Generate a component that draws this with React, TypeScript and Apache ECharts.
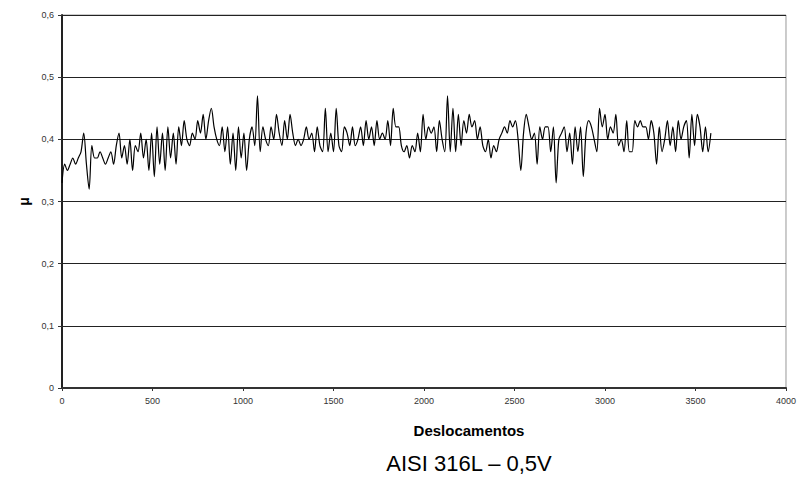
import React, { useEffect, useRef } from "react";
import * as echarts from "echarts";

const xStep = 15;
const muValues: number[] = [
  0.33, 0.36, 0.35, 0.36, 0.37, 0.36, 0.37, 0.38, 0.41, 0.36,
  0.32, 0.39, 0.37, 0.37, 0.38, 0.37, 0.36, 0.37, 0.38, 0.36,
  0.39, 0.41, 0.37, 0.39, 0.36, 0.40, 0.35, 0.39, 0.38, 0.41,
  0.37, 0.40, 0.35, 0.41, 0.34, 0.42, 0.36, 0.41, 0.35, 0.42,
  0.37, 0.41, 0.36, 0.42, 0.39, 0.43, 0.40, 0.39, 0.41, 0.40,
  0.43, 0.41, 0.44, 0.40, 0.43, 0.45, 0.42, 0.40, 0.39, 0.42,
  0.38, 0.42, 0.36, 0.41, 0.35, 0.42, 0.37, 0.41, 0.35, 0.40,
  0.42, 0.39, 0.47, 0.38, 0.42, 0.40, 0.39, 0.42, 0.40, 0.44,
  0.41, 0.39, 0.43, 0.40, 0.44, 0.41, 0.39, 0.40, 0.39, 0.40,
  0.42, 0.40, 0.41, 0.38, 0.42, 0.39, 0.38, 0.45, 0.38, 0.41,
  0.38, 0.45, 0.39, 0.38, 0.42, 0.41, 0.39, 0.42, 0.39, 0.40,
  0.42, 0.39, 0.43, 0.40, 0.42, 0.39, 0.43, 0.40, 0.41, 0.40,
  0.43, 0.39, 0.45, 0.42, 0.42, 0.39, 0.38, 0.39, 0.37, 0.39,
  0.38, 0.41, 0.38, 0.44, 0.40, 0.42, 0.41, 0.42, 0.38, 0.43,
  0.40, 0.38, 0.47, 0.38, 0.45, 0.38, 0.44, 0.39, 0.43, 0.41,
  0.44, 0.42, 0.43, 0.40, 0.42, 0.39, 0.38, 0.40, 0.37, 0.39,
  0.38, 0.40, 0.41, 0.42, 0.41, 0.43, 0.42, 0.43, 0.40, 0.35,
  0.41, 0.44, 0.42, 0.40, 0.41, 0.36, 0.42, 0.40, 0.42, 0.42,
  0.38, 0.42, 0.33, 0.40, 0.41, 0.42, 0.38, 0.41, 0.36, 0.42,
  0.38, 0.42, 0.34, 0.41, 0.43, 0.42, 0.40, 0.38, 0.45, 0.42,
  0.44, 0.40, 0.42, 0.41, 0.44, 0.39, 0.40, 0.38, 0.43, 0.38,
  0.38, 0.43, 0.42, 0.43, 0.42, 0.42, 0.40, 0.43, 0.41, 0.36,
  0.42, 0.38, 0.40, 0.43, 0.39, 0.42, 0.38, 0.43, 0.40, 0.42,
  0.43, 0.37, 0.44, 0.39, 0.44, 0.42, 0.38, 0.42, 0.38, 0.41,
];
const xAxisTitle = "Deslocamentos";
const yAxisTitle = "μ";
const chartTitle = "AISI 316L – 0,5V";

export default function App() {
  const ref = useRef<HTMLDivElement>(null);
  useEffect(() => {
    if (!ref.current) return;
    const chart = echarts.init(ref.current, undefined, { renderer: "svg" });
    const data = muValues.map((v, i) => [i * xStep, v]);
    const font = "'Liberation Sans', Arial, sans-serif";
    chart.setOption({
      animation: false,
      backgroundColor: "#fff",
      grid: {
        left: 62,
        right: 12,
        top: 15,
        bottom: 100,
        show: true,
        borderColor: "#999",
        borderWidth: 1,
      },
      xAxis: {
        type: "value",
        min: 0,
        max: 4000,
        interval: 500,
        axisLine: { show: true, lineStyle: { color: "#333", width: 2 } },
        axisTick: { show: true, length: 3, lineStyle: { color: "#333" } },
        splitLine: { show: false },
        axisLabel: {
          fontFamily: font,
          fontSize: 9,
          color: "#333",
          margin: 8,
          formatter: (v: number) => String(v),
        },
      },
      yAxis: {
        type: "value",
        min: 0,
        max: 0.6,
        interval: 0.1,
        name: yAxisTitle,
        nameLocation: "middle",
        nameGap: 28,
        nameRotate: 90,
        nameTextStyle: { fontFamily: font, fontSize: 14, fontWeight: "bold", color: "#000" },
        axisLine: { show: true, lineStyle: { color: "#222", width: 2 } },
        axisTick: { show: true, length: 4, lineStyle: { color: "#333" } },
        splitLine: { show: true, lineStyle: { color: "#222", width: 1 } },
        axisLabel: {
          fontFamily: font,
          fontSize: 9,
          color: "#333",
          margin: 8,
          formatter: (v: number) => (v === 0 ? "0" : v.toFixed(1).replace(".", ",")),
        },
      },
      series: [
        {
          type: "line",
          data,
          smooth: 0.3,
          showSymbol: false,
          lineStyle: { color: "#000", width: 1.2 },
        },
      ],
      graphic: [
        {
          type: "text",
          x: 469,
          y: 430,
          style: {
            text: xAxisTitle,
            fontFamily: font,
            fontSize: 15,
            fontWeight: "bold",
            fill: "#000",
            textAlign: "center",
            textVerticalAlign: "middle",
          },
        },
        {
          type: "text",
          x: 469,
          y: 463,
          style: {
            text: chartTitle,
            fontFamily: font,
            fontSize: 22,
            fill: "#000",
            textAlign: "center",
            textVerticalAlign: "middle",
          },
        },
      ],
    });
    return () => chart.dispose();
  }, []);
  return <div ref={ref} style={{ width: 799, height: 488, position: "absolute", left: 0, top: 0 }} />;
}
